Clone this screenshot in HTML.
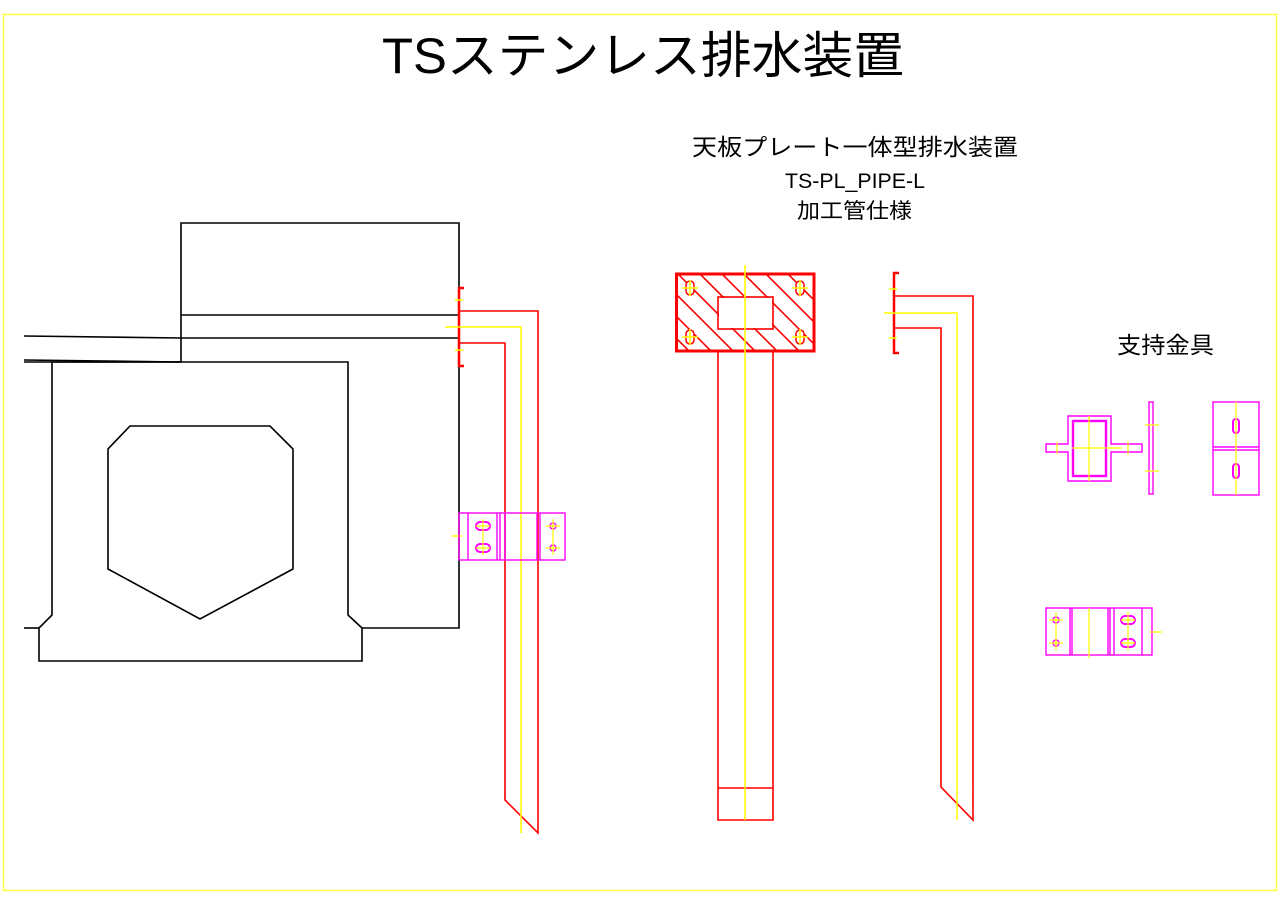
<!DOCTYPE html>
<html><head><meta charset="utf-8"><style>
body{margin:0;background:#fff;}
svg{display:block;}
text{font-family:"Liberation Sans","Noto Sans CJK JP",sans-serif;}
</style></head><body>
<svg width="1280" height="905" viewBox="0 0 1280 905">
<rect x="3.5" y="14.5" width="1273" height="876" fill="none" stroke="#ffff44" stroke-width="1.5"/>
<text x="382" y="73" font-size="50" fill="#000" textLength="522" lengthAdjust="spacingAndGlyphs">TSステンレス排水装置</text>
<text x="692" y="155" font-size="23" textLength="326" lengthAdjust="spacingAndGlyphs">天板プレート一体型排水装置</text>
<text x="785" y="188" font-size="21" textLength="140" lengthAdjust="spacingAndGlyphs">TS-PL_PIPE-L</text>
<text x="797" y="218" font-size="21" textLength="115" lengthAdjust="spacingAndGlyphs">加工管仕様</text>
<text x="1117" y="353" font-size="23" textLength="97" lengthAdjust="spacingAndGlyphs">支持金具</text>

<g fill="none" stroke="#000" stroke-width="1.6">
<polyline points="181,362 181,223 459,223 459,628 362,628"/>
<line x1="181" y1="315" x2="459" y2="315"/>
<polyline points="24,336 181,338 459,338"/>
<polyline points="24,360 181,362"/>
<polyline points="24,362 181,362"/>
<polyline points="52,362 348,362 348,615 362,628 362,661 39,661 39,628 52,615 52,362"/>
<line x1="24" y1="628" x2="39" y2="628"/>
<polygon points="130,426 270,426 293,449 293,569 200,619 108,569 108,449"/>
</g>

<g fill="none" stroke="#f00" stroke-width="1.6">
<polyline points="464,288 459,288 459,366 464,366" stroke-width="2.5"/>
<polyline points="459,311 538,311 538,833 505,800 505,343 459,343"/>
<polyline points="899,273 894,273 894,353 899,353" stroke-width="2.5"/>
<polyline points="894,296 973,296 973,820 941,787 941,328 894,328"/>
<polyline points="718,351 718,820 773,820 773,351"/>
<line x1="718" y1="788" x2="773" y2="788"/>
</g>
<clipPath id="hc"><rect x="677" y="275" width="136" height="75"/></clipPath>
<g clip-path="url(#hc)" stroke="#f00" stroke-width="1.6">
<path d="M590,274l80,80M612,274l80,80M634,274l80,80M656,274l80,80M678,274l80,80M700,274l80,80M722,274l80,80M744,274l80,80M766,274l80,80M788,274l80,80"/>
</g>
<rect x="676.5" y="274" width="137.5" height="77" fill="none" stroke="#f00" stroke-width="3"/>
<rect x="719" y="298" width="53" height="30" fill="#fff"/>
<rect x="718" y="297" width="55" height="32" fill="none" stroke="#f00" stroke-width="1.6"/>
<g fill="#fff" stroke="#f00" stroke-width="1.5">
<rect x="686" y="281" width="8" height="14" rx="4"/><rect x="796" y="281" width="8" height="14" rx="4"/>
<rect x="686" y="330" width="8" height="14" rx="4"/><rect x="796" y="330" width="8" height="14" rx="4"/>
</g>
<g stroke="#ff0" stroke-width="1.5" fill="none">
<polyline points="445,327 521,327 521,833"/>
<polyline points="884,313 957,313 957,820"/>
<line x1="745" y1="265" x2="745" y2="820"/>
<path d="M682,288h16M792,288h16M682,337h16M792,337h16M690,280v16M800,280v16M690,329v16M800,329v16M455,300h8M455,350h8M889,289h8M889,338h8M452,536h10"/>
</g>

<g fill="none" stroke="#f0f" stroke-width="1.4">
<rect x="459" y="513" width="106" height="47"/>
<path d="M468,513v47M497,513v47M500,513v47M505,513v47M537,513v47M540,513v47"/>
<rect x="476" y="522" width="14" height="8" rx="4" stroke-width="2"/><rect x="476" y="544" width="14" height="8" rx="4" stroke-width="2"/>
<circle cx="553" cy="526" r="3"/><circle cx="553" cy="548" r="3"/>
</g>
<g stroke="#ff0" stroke-width="1.2"><path d="M476,526h14M476,548h14M483,519v36M546,526h14M546,548h14M553,519v36"/></g>

<g fill="none" stroke="#f0f" stroke-width="1.4">
<path d="M1068,444V416h43v28h31v8h-31v29h-43v-29h-22v-8z"/>
<rect x="1073" y="421" width="33" height="55" stroke-width="2.4"/>
<rect x="1149" y="402" width="4" height="92"/>
<rect x="1213" y="402" width="46" height="93"/>
<path d="M1213,447h46M1213,450h46"/>
<rect x="1233" y="419" width="6" height="14" rx="3" stroke-width="2"/><rect x="1233" y="464" width="6" height="14" rx="3" stroke-width="2"/>
<rect x="1046" y="608" width="106" height="47"/>
<path d="M1070,608v47M1072,608v47M1108,608v47M1110,608v47M1114,608v47M1142,608v47"/>
<circle cx="1056" cy="620" r="3"/><circle cx="1056" cy="643" r="3"/>
<rect x="1121" y="616" width="14" height="8" rx="4" stroke-width="2"/><rect x="1121" y="639" width="14" height="8" rx="4" stroke-width="2"/>
</g>
<g stroke="#ff0" stroke-width="1.2" fill="none">
<path d="M1089,416v65M1072,448h50M1057,442v12M1128,442v12M1145,425h14M1145,471h14M1236,402v93M1089,608v50M1049,620h14M1049,643h14M1056,612v38M1121,620h14M1121,643h14M1128,612v38M1150,632h12"/>
</g>
</svg>
</body></html>
